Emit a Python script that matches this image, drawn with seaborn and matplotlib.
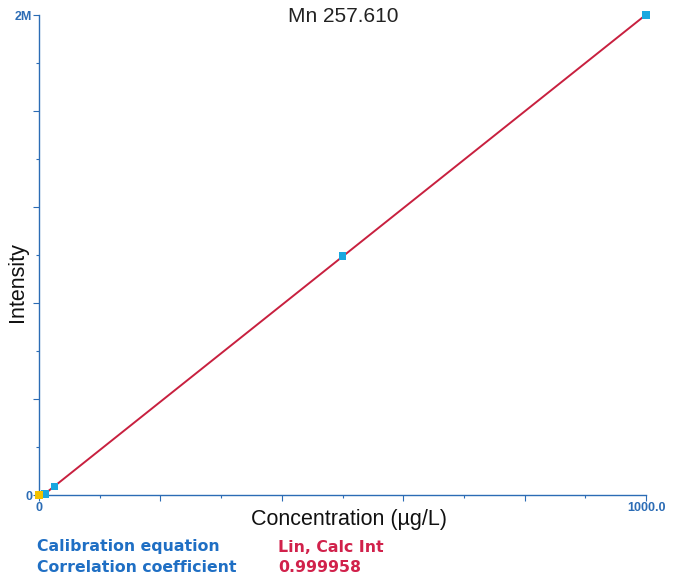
import seaborn as sns
import matplotlib.pyplot as plt
import matplotlib.ticker as mticker
import numpy as np
import pandas as pd

# calibration standards (µg/L) and measured intensity
blank_conc = [0.0]
blank_int = [0.0]
std_conc = [10.0, 25.0, 500.0, 1000.0]
std_int = [4000.0, 36000.0, 996000.0, 2000000.0]

x_ticks = [0, 200, 400, 600, 800, 1000]
x_tick_labels = ["0", "", "", "", "", "1000.0"]
y_ticks = [0, 400000, 800000, 1200000, 1600000, 2000000]
y_tick_labels = ["0", "", "", "", "", "2M"]

info_labels = ["Calibration equation", "Correlation coefficient"]
info_values = ["Lin, Calc Int", "0.999958"]

sns.set_theme(style="white")
plt.rcParams['font.family'] = ['Liberation Sans', 'DejaVu Sans']

axis_blue = "#2b6cb5"
line_red = "#c8203f"
marker_blue = "#1aa7df"
marker_yellow = "#f2c200"

fig = plt.figure(figsize=(6.76, 5.84), dpi=100)
ax = fig.add_axes([39 / 676, 1 - 495 / 584, (646 - 39) / 676, (495 - 15) / 584])

# fitted calibration line through the standards
slope, intercept = np.polyfit(std_conc, std_int, 1)
fit_df = pd.DataFrame({"conc": [min(std_conc), max(std_conc)]})
fit_df["int"] = slope * fit_df["conc"] + intercept
sns.lineplot(data=fit_df, x="conc", y="int", ax=ax, color=line_red, linewidth=1.4, zorder=2)

std_df = pd.DataFrame({"conc": std_conc, "int": std_int})
blank_df = pd.DataFrame({"conc": blank_conc, "int": blank_int})
sns.scatterplot(data=std_df, x="conc", y="int", ax=ax, marker="s", s=28,
                color=marker_blue, edgecolor="none", zorder=3, clip_on=False)
sns.scatterplot(data=blank_df, x="conc", y="int", ax=ax, marker="s", s=28,
                color=marker_yellow, edgecolor="none", zorder=3, clip_on=False)

ax.set_xlim(0, 1000)
ax.set_ylim(0, 2000000)
ax.set_xlabel("")
ax.set_ylabel("")

for side in ["top", "right"]:
    ax.spines[side].set_visible(False)
for side in ["left", "bottom"]:
    ax.spines[side].set_color(axis_blue)
    ax.spines[side].set_linewidth(1.0)

ax.xaxis.set_major_locator(mticker.FixedLocator(x_ticks))
ax.xaxis.set_major_formatter(mticker.FixedFormatter(x_tick_labels))
ax.xaxis.set_minor_locator(mticker.MultipleLocator(100))
ax.yaxis.set_major_locator(mticker.FixedLocator(y_ticks))
ax.yaxis.set_major_formatter(mticker.FixedFormatter(y_tick_labels))
ax.yaxis.set_minor_locator(mticker.MultipleLocator(200000))

ax.tick_params(which="major", direction="out", length=4, width=0.8, color=axis_blue,
               labelcolor=axis_blue, labelsize=9, pad=1, bottom=True, left=True)
ax.tick_params(which="minor", direction="out", length=2, width=0.8, color=axis_blue,
               bottom=True, left=True)
for lbl in ax.get_xticklabels() + ax.get_yticklabels():
    lbl.set_fontweight("bold")

fig.text(343 / 676, 1 - 17 / 584, "Mn 257.610", ha="center", va="center",
         fontsize=15, color="#222222")
fig.text(18 / 676, 1 - 282 / 584, "Intensity", ha="center", va="center",
         rotation=90, fontsize=15.5, color="#111111")
fig.text(349 / 676, 1 - 519 / 584, "Concentration (µg/L)", ha="center", va="center",
         fontsize=15.5, color="#111111")

for i, (lab, val) in enumerate(zip(info_labels, info_values)):
    y = 1 - (547 + 20 * i) / 584
    fig.text(37 / 676, y, lab, ha="left", va="center", fontsize=11.3,
             fontweight="bold", color="#1f6fc4", family=["DejaVu Sans"])
    fig.text(278 / 676, y, val, ha="left", va="center", fontsize=11.3,
             fontweight="bold", color="#d1214b", family=["DejaVu Sans"])

fig.savefig("out.png", dpi=100)
